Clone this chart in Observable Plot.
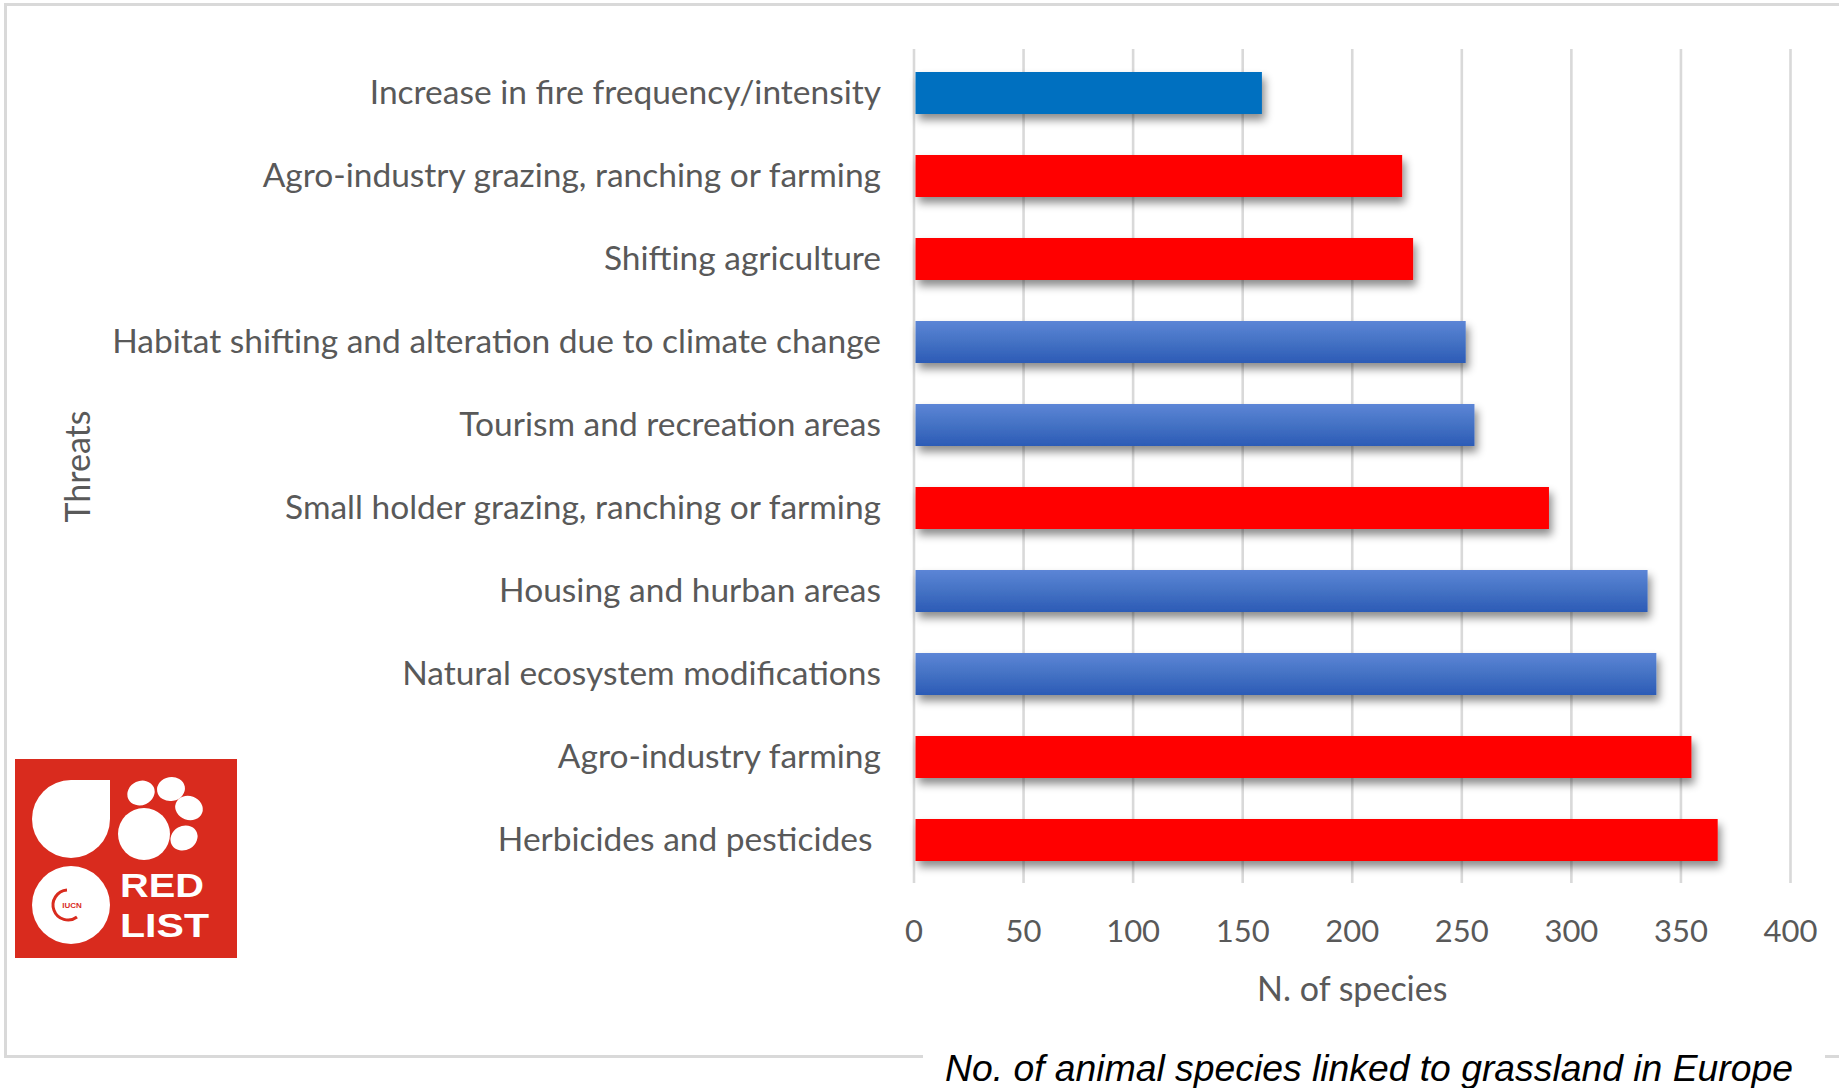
<!DOCTYPE html>
<html>
<head>
<meta charset="utf-8">
<script src="https://cdn.jsdelivr.net/npm/d3@7"></script>
<script src="https://cdn.jsdelivr.net/npm/@observablehq/plot@0.6"></script>
<style>
  html, body { margin: 0; padding: 0; width: 1839px; height: 1088px; overflow: hidden; background: #fff; }
  #wrap { position: relative; width: 1839px; height: 1088px; }
  #frame { position: absolute; left: 4px; top: 3px; width: 1900px; height: 1049px; border: 3px solid #d9d9d9; box-sizing: content-box; }
  #chart { position: absolute; left: 0; top: 0; }
  #caption { position: absolute; left: 923px; top: 1050px; width: 902px; height: 38px; background: #fff;
             font-family: "Liberation Sans", Arial, sans-serif; font-style: italic; font-size: 37.3px; line-height: 37px;
             color: #000; padding-left: 22px; box-sizing: border-box; white-space: nowrap; }
  #logo { position: absolute; left: 15px; top: 759px; }
</style>
</head>
<body>
<div id="wrap">
  <div id="frame"></div>
  <div id="chart"></div>
  <svg id="logo" width="222" height="199" viewBox="0 0 222 199">
    <rect x="0" y="0" width="222" height="199" fill="#D92B1E"/>
    <path d="M56 21 L95 21 L95 60 A39 39 0 1 1 56 21 Z" fill="#fff"/>
    <circle cx="129" cy="75" r="26" fill="#fff"/>
    <ellipse cx="126" cy="34" rx="14" ry="12" transform="rotate(-25 126 34)" fill="#fff"/>
    <ellipse cx="156" cy="30" rx="14" ry="12" transform="rotate(-10 156 30)" fill="#fff"/>
    <ellipse cx="174" cy="49" rx="14" ry="12" transform="rotate(20 174 49)" fill="#fff"/>
    <ellipse cx="169" cy="79" rx="14" ry="12" transform="rotate(-30 169 79)" fill="#fff"/>
    <circle cx="56" cy="146" r="39" fill="#fff"/>
    <path d="M52 131 A15 15 0 1 0 62 158" fill="none" stroke="#D92B1E" stroke-width="3"/>
    <text x="57" y="149" font-family="Liberation Sans, Arial" font-size="8" font-weight="bold" fill="#D92B1E" text-anchor="middle">IUCN</text>
    <text x="105" y="138" font-family="Liberation Sans, Arial" font-size="34" font-weight="bold" fill="#fff" textLength="84" lengthAdjust="spacingAndGlyphs">RED</text>
    <text x="105" y="178" font-family="Liberation Sans, Arial" font-size="34" font-weight="bold" fill="#fff" textLength="89" lengthAdjust="spacingAndGlyphs">LIST</text>
  </svg>
  <div id="caption">No. of animal species linked to grassland in Europe</div>
</div>
<script>
// ---- data ----
const threats = [
  "Increase in fire frequency/intensity",
  "Agro-industry grazing, ranching or farming",
  "Shifting agriculture",
  "Habitat shifting and alteration due to climate change",
  "Tourism and recreation areas",
  "Small holder grazing, ranching or farming",
  "Housing and hurban areas",
  "Natural ecosystem modifications",
  "Agro-industry farming",
  "Herbicides and pesticides\u00A0"
];
const species = [159, 223, 228, 252, 256, 290, 335, 339, 355, 367];
const group = ["fire", "agriculture", "agriculture", "other", "other", "agriculture", "other", "other", "agriculture", "agriculture"];
const xTicks = [0, 50, 100, 150, 200, 250, 300, 350, 400];
const groupDomain = ["fire", "other", "agriculture"];
const groupColors = ["#0070C0", "url(#blueGrad)", "#FF0000"];

const rows = threats.map((t, i) => ({threat: t, n: species[i], group: group[i]}));

const chart = Plot.plot({
  width: 1839,
  height: 1088,
  marginLeft: 913.5,
  marginRight: 49,
  marginTop: 49,
  marginBottom: 205,
  style: {fontFamily: "Lato, 'Open Sans', sans-serif", fontSize: "33.5px", background: "transparent", overflow: "visible"},
  x: {domain: [0, 400]},
  y: {domain: threats, paddingInner: 0.5, paddingOuter: 0.25},
  color: {domain: groupDomain, range: groupColors},
  marks: [
    Plot.ruleX(xTicks, {x: d => d, stroke: "#d9d9d9", strokeWidth: 2.6}),
    Plot.barX(rows, {x: "n", y: "threat", fill: "group", inset: 0, insetLeft: 2}),
    Plot.axisY({tickSize: 0, tickPadding: 33, fontSize: 33.5, color: "#595959", label: null}),
    Plot.axisX({ticks: xTicks, tickSize: 0, tickPadding: 36, fontSize: 31, color: "#595959", label: null}),
    Plot.text(["N. of species"], {frameAnchor: "bottom", dy: 117, fontSize: 34, fill: "#595959"}),
    Plot.text(["Threats"], {frameAnchor: "left", dx: -835, rotate: -90, textAnchor: "middle", fontSize: 34, fill: "#595959"})
  ]
});

// gradient + shadow definitions
const ns = "http://www.w3.org/2000/svg";
const defs = document.createElementNS(ns, "defs");
defs.innerHTML = `
  <linearGradient id="blueGrad" x1="0" y1="0" x2="0" y2="1">
    <stop offset="0%" stop-color="#5C85D6"/>
    <stop offset="50%" stop-color="#4472C4"/>
    <stop offset="100%" stop-color="#2C5BB6"/>
  </linearGradient>
  <filter id="shadow" x="-10%" y="-30%" width="130%" height="180%">
    <feDropShadow dx="3" dy="6" stdDeviation="4" flood-color="#000" flood-opacity="0.45"/>
  </filter>`;
chart.insertBefore(defs, chart.firstChild);
const barG = chart.querySelector('g[aria-label="bar"]');
if (barG) barG.setAttribute("filter", "url(#shadow)");

document.getElementById("chart").appendChild(chart);
</script>
</body>
</html>
